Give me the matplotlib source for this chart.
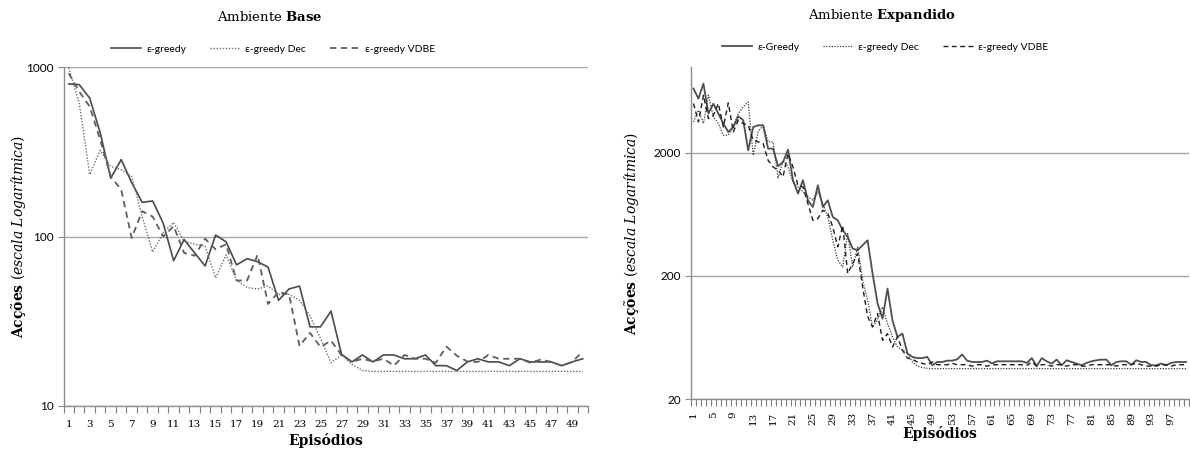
import numpy as np
import matplotlib
matplotlib.use("Agg")
import matplotlib.pyplot as plt
from matplotlib.ticker import FixedLocator, NullFormatter, FixedFormatter

plt.rcParams["mathtext.fontset"] = "custom"
plt.rcParams["mathtext.rm"] = "DejaVu Serif"
plt.rcParams["mathtext.it"] = "DejaVu Serif:italic"
plt.rcParams["mathtext.bf"] = "DejaVu Serif:bold"

# ---- Ambiente Base (50 episódios) ----
greedy_base = [794, 787, 655, 409, 221, 284, 208, 159, 162, 120,
               72, 96, 80, 67, 102, 93, 68, 74, 71, 66,
               42, 49, 51, 29.3, 29.3, 36.3, 20.2, 18.2, 20, 18.2,
               20, 20, 19, 19, 20, 17.3, 17.3, 16.2, 18.2, 19,
               18.2, 18.2, 17.3, 19, 18.2, 18.2, 18.2, 17.3, 18.2, 19]
dec_base = [990, 613, 232, 322, 259, 248, 226, 131, 81, 105,
            121, 94, 90, 88, 57, 78, 55, 50, 49, 51,
            45.6, 45.6, 42, 34, 25, 18, 20, 17.6, 16.2, 16,
            16, 16, 16, 16, 16, 16, 16, 16, 16, 16,
            16, 16, 16, 16, 16, 16, 16, 16, 16, 16]
vdbe_base = [918, 716, 584, 372, 226, 189, 98, 141, 131, 100,
             115, 80, 77, 97, 84, 90, 55, 55, 78, 40,
             47, 45.6, 22.6, 27, 22.3, 24.3, 20, 18.2, 19, 18.3,
             19, 17.3, 20, 19, 19, 18, 22.4, 19.8, 18.3, 18.2,
             20, 19, 19, 19, 18, 18.8, 18.2, 17.3, 18.2, 21]

# ---- Ambiente Expandido (100 episódios) ----
greedy_exp = [6680, 5534, 7330, 4180, 5030, 4180, 3466, 2964, 3252, 3974,
              3690, 2100, 3252, 3358, 3358, 2170, 2170, 1560, 1690, 2130,
              1200, 935, 1200, 825, 728, 1092, 728, 825, 603, 567,
              471, 415, 334, 324, 356, 390, 209, 120, 90, 158,
              87, 64, 68, 47, 44, 43, 43, 44, 37.6, 40,
              40, 41, 41, 42, 46, 41, 40, 40, 40, 41,
              39, 40.5, 40.5, 40.5, 40.5, 40.5, 40.5, 39.3, 43, 37,
              43, 40.5, 38.8, 41.8, 37.6, 41.3, 40, 38.8, 37.6, 39.3,
              40.5, 41.3, 41.8, 41.8, 37.6, 40, 40.5, 40.5, 38, 41.3,
              40, 40, 37.6, 37.6, 38.8, 37.6, 39.3, 40, 40, 40]
dec_exp = [3575, 4460, 3466, 5900, 3930, 3466, 2790, 2790, 3260, 4180,
           4750, 5200, 1915, 2970, 3360, 2460, 2460, 1240, 1745, 1540,
           1160, 1060, 965, 880, 825, 965, 775, 603, 390, 269,
           237, 442, 237, 345, 185, 127, 77, 88, 112, 82,
           64, 53, 50, 47, 40, 37, 36, 35.5, 35.3, 35.3,
           35.3, 35.3, 35.3, 35.3, 35.3, 35.3, 35.3, 35.3, 35.3, 35.3,
           35.3, 35.3, 35.3, 35.3, 35.3, 35.3, 35.3, 35.3, 35.3, 35.3,
           35.3, 35.3, 35.3, 35.3, 35.3, 35.3, 35.3, 35.3, 35.3, 35.3,
           35.3, 35.3, 35.3, 35.3, 35.3, 35.3, 35.3, 35.3, 35.3, 35.3,
           35.3, 35.3, 35.3, 35.3, 35.3, 35.3, 35.3, 35.3, 35.3, 35.3]
vdbe_exp = [5050, 3575, 5900, 3800, 4050, 5050, 3260, 5100, 2970, 3690,
            3466, 3360, 2540, 2460, 2390, 1745, 1540, 1450, 1280, 1975,
            1540, 1090, 1060, 775, 567, 585, 685, 645, 500, 345,
            515, 209, 253, 305, 163, 94, 77, 99, 60, 68,
            53, 64, 50, 43, 42, 40, 39, 38, 40, 38,
            38, 38, 39, 38, 38, 38, 37, 38, 38, 37,
            38, 38, 38, 38, 38, 38, 38, 37.5, 40, 37,
            38, 38, 37, 38, 38, 37, 38, 38, 37, 37,
            38, 38, 38, 38, 38, 37, 38, 38, 38, 39,
            38, 37, 37, 37, 38, 38, 37, 38, 38, 38]

labels_base = ["ε-greedy", "ε-greedy Dec", "ε-greedy VDBE"]
labels_exp = ["ε-Greedy", "ε-greedy Dec", "ε-greedy VDBE"]

W, H = 1190, 450
fig = plt.figure(figsize=(W / 100, H / 100), dpi=100)

GRID = "#a6a6a6"
SERIF = "DejaVu Serif"
SANS = "Lato"


def frac(x0, y0, x1, y1):
    return [x0 / W, 1 - y1 / H, (x1 - x0) / W, (y1 - y0) / H]


def style_axes(ax, n, yticks, ylim, label_step, rotate):
    ax.set_yscale("log")
    ax.set_ylim(*ylim)
    ax.set_xlim(0.5, n + 0.5)
    for side in ("top", "right"):
        ax.spines[side].set_visible(False)
    for side in ("left", "bottom"):
        ax.spines[side].set_color("#8c8c8c")
        ax.spines[side].set_linewidth(1.0)
    # horizontal gridlines at the labelled decades
    ax.yaxis.set_major_locator(FixedLocator(yticks))
    ax.yaxis.set_major_formatter(FixedFormatter([str(t) for t in yticks]))
    ax.yaxis.set_minor_locator(FixedLocator([]))
    ax.yaxis.set_minor_formatter(NullFormatter())
    ax.grid(axis="y", which="major", color=GRID, lw=1.0)
    ax.set_axisbelow(True)
    ax.tick_params(axis="y", which="major", length=4, width=0.8, color="#8c8c8c",
                   labelsize=8.5, pad=3)
    for t in ax.get_yticklabels():
        t.set_fontfamily(SANS)
    # category axis: tick marks between episodes, labels on the episodes
    ax.xaxis.set_major_locator(FixedLocator(np.arange(0.5, n + 1, 1.0)))
    ax.xaxis.set_major_formatter(NullFormatter())
    lab_pos = np.arange(1, n + 1, label_step)
    ax.xaxis.set_minor_locator(FixedLocator(lab_pos))
    ax.xaxis.set_minor_formatter(FixedFormatter([str(p) for p in lab_pos]))
    ax.tick_params(axis="x", which="major", length=5, width=0.8, color="#7f7f7f",
                   direction="out")
    ax.tick_params(axis="x", which="minor", length=0, labelsize=7.5,
                   pad=9 if rotate else 10, labelrotation=90 if rotate else 0)
    for t in ax.get_xticklabels(minor=True):
        t.set_fontfamily(SERIF)


# ---------------- left chart ----------------
ax1 = fig.add_axes(frac(63.5, 67, 588, 406))
ep_base = np.arange(1, len(greedy_base) + 1)
ax1.plot(ep_base, greedy_base, color="#4a4a4a", lw=1.2, ls="-", label=labels_base[0])
ax1.plot(ep_base, dec_base, color="#6e6e6e", lw=1.0, ls=(0, (1, 1.2)), label=labels_base[1])
ax1.plot(ep_base, vdbe_base, color="#5e5e5e", lw=1.3, ls=(0, (3.5, 2.5)), label=labels_base[2])
style_axes(ax1, 50, [10, 100, 1000], (10, 1000), 2, False)
ax1.set_xlabel("Episódios", fontfamily=SERIF, fontweight="bold", fontsize=10, labelpad=3)
ax1.set_ylabel(r"$\mathbf{Acções}$ $(\mathit{escala\ Logarítmica})$", fontsize=10)
ax1.yaxis.set_label_coords(-0.068, 0.5)

fig.text(270 / W, 1 - 17 / H, r"Ambiente $\mathbf{Base}$", ha="center", va="center",
         fontfamily=SERIF, fontsize=9.5)
fig.legend(*ax1.get_legend_handles_labels(), loc="center", ncol=3, frameon=False,
           bbox_to_anchor=(273 / W, 1 - 49 / H), prop={"family": SANS, "size": 7.5},
           handlelength=2.9, columnspacing=2.3, handletextpad=0.45)

# ---------------- right chart ----------------
ax2 = fig.add_axes(frac(691, 67, 1188.5, 399))
ep_exp = np.arange(1, len(greedy_exp) + 1)
ax2.plot(ep_exp, greedy_exp, color="#4f4f4f", lw=1.3, ls="-", label=labels_exp[0])
ax2.plot(ep_exp, dec_exp, color="#3a3a3a", lw=0.9, ls=(0, (1, 1.2)), label=labels_exp[1])
ax2.plot(ep_exp, vdbe_exp, color="#1e1e1e", lw=1.0, ls=(0, (3.5, 2.5)), label=labels_exp[2])
style_axes(ax2, 100, [20, 200, 2000], (20, 10000), 4, True)
ax2.set_xlabel("Episódios", fontfamily=SERIF, fontweight="bold", fontsize=10, labelpad=1)
ax2.set_ylabel(r"$\mathbf{Acções}$ $(\mathit{escala\ Logarítmica})$", fontsize=10)
ax2.yaxis.set_label_coords(-0.1, 0.5)

fig.text(882 / W, 1 - 16 / H, r"Ambiente $\mathbf{Expandido}$", ha="center", va="center",
         fontfamily=SERIF, fontsize=9.5)
fig.legend(*ax2.get_legend_handles_labels(), loc="center", ncol=3, frameon=False,
           bbox_to_anchor=(885 / W, 1 - 47 / H), prop={"family": SANS, "size": 7.5},
           handlelength=2.9, columnspacing=2.3, handletextpad=0.45)

fig.savefig("out.png", dpi=100, facecolor="white")
